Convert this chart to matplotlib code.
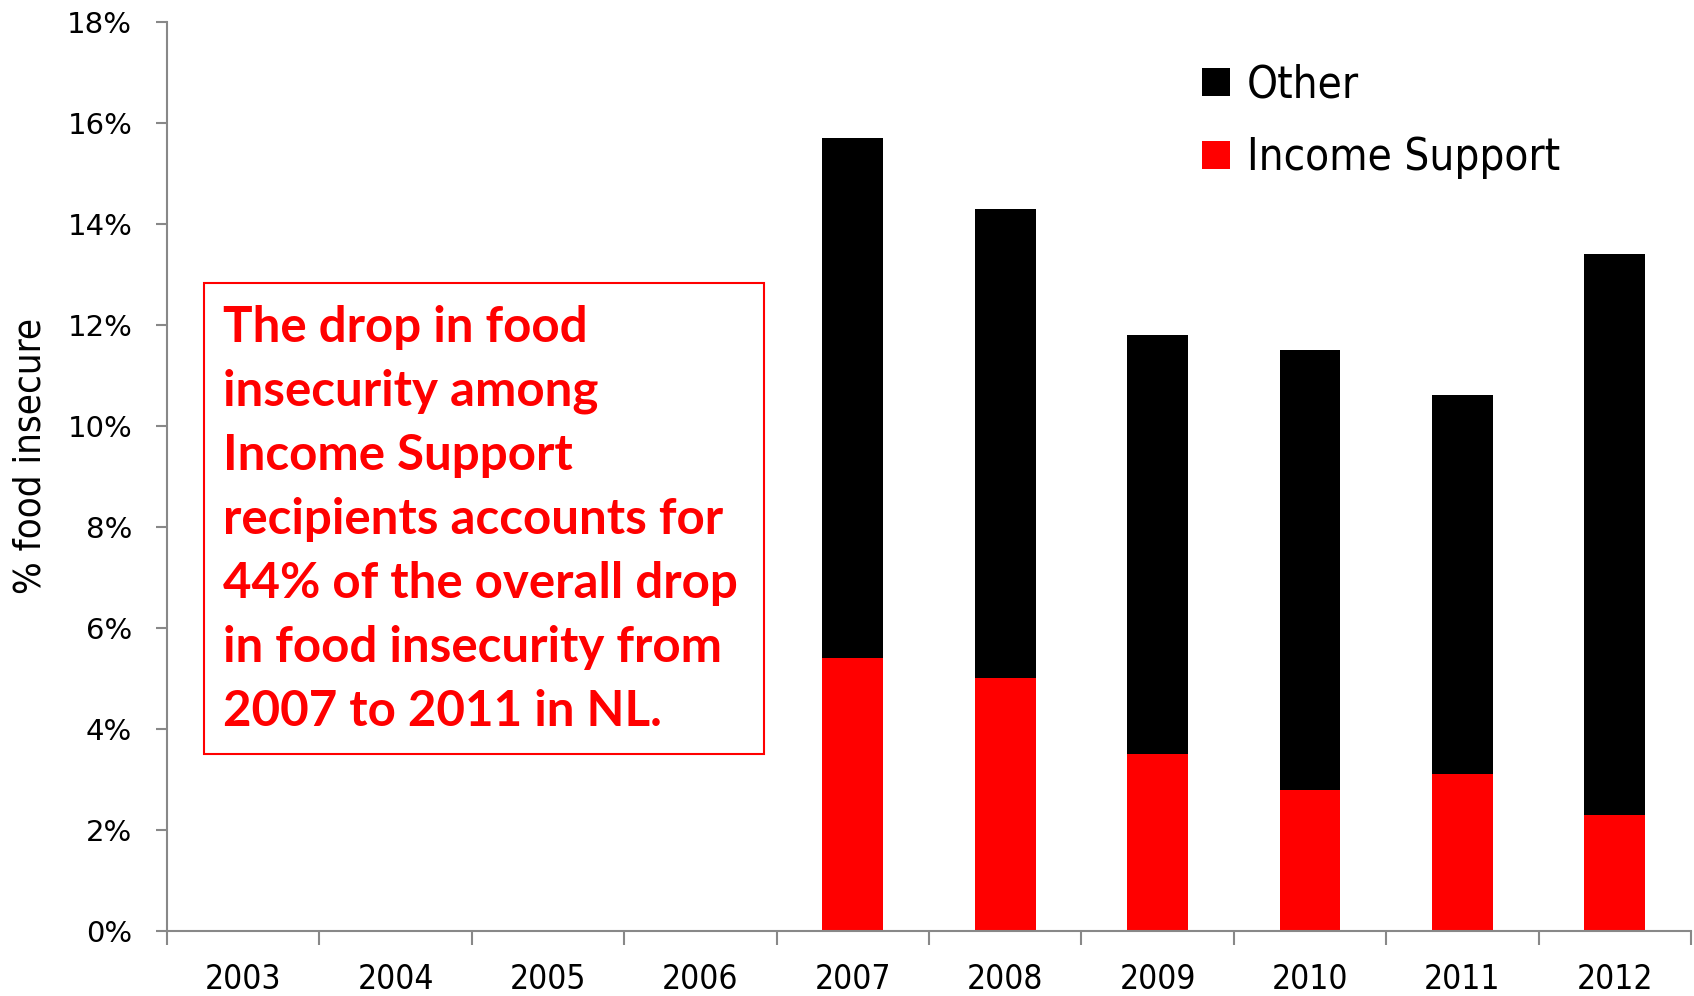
import matplotlib
matplotlib.use('Agg')
import matplotlib.pyplot as plt
from matplotlib.patches import Rectangle, Patch
from matplotlib.ticker import FixedLocator

years = ['2003', '2004', '2005', '2006', '2007', '2008', '2009', '2010', '2011', '2012']
# доли в процентах; пустые годы без данных
income_support = [0, 0, 0, 0, 5.4, 5.0, 3.5, 2.8, 3.1, 2.3]
other = [0, 0, 0, 0, 10.3, 9.3, 8.3, 8.7, 7.5, 11.1]
y_ticks = [0, 2, 4, 6, 8, 10, 12, 14, 16, 18]

note = ('The drop in food\ninsecurity among\nIncome Support\nrecipients accounts for\n'
        '44% of the overall drop\nin food insecurity from\n2007 to 2011 in NL.')

W, H = 1694, 996
grey = '#888888'
narrow = {'family': 'DejaVu Sans', 'stretch': 'condensed'}

fig = plt.figure(figsize=(W / 100, H / 100), dpi=100)
ax = fig.add_axes([167 / W, 1 - 931 / H, (1691 - 167) / W, (931 - 21.6) / H])

x = list(range(len(years)))
ax.bar(x, income_support, width=0.4, color='#ff0000', label='Income Support')
ax.bar(x, other, width=0.4, bottom=income_support, color='black', label='Other')

ax.set_xlim(-0.5, len(years) - 0.5)
ax.set_ylim(0, 18)

# оси
for s in ['top', 'right']:
    ax.spines[s].set_visible(False)
for s in ['left', 'bottom']:
    ax.spines[s].set_color(grey)
    ax.spines[s].set_linewidth(1.5)

ax.set_yticks(y_ticks)
ax.set_yticklabels(['%d%%' % v for v in y_ticks], fontsize=21, family='DejaVu Sans')
ax.tick_params(axis='y', length=8, width=1.5, color=grey, pad=17)

ax.set_xticks(x)
ax.set_xticklabels(years, fontsize=24, **narrow)
ax.tick_params(axis='x', which='major', length=0, pad=23)
ax.xaxis.set_minor_locator(FixedLocator([i - 0.5 for i in range(len(years) + 1)]))
ax.tick_params(axis='x', which='minor', length=10, width=1.5, color=grey)

ax.set_ylabel('% food insecure', fontsize=27.5, **narrow)
ax.yaxis.set_label_coords(-0.0777, 0.522)

# легенда
h_other = Patch(facecolor='black')
h_inc = Patch(facecolor='#ff0000')
ax.legend([h_other, h_inc], ['Other', 'Income Support'], loc='upper left',
          bbox_to_anchor=(1163 / W, 1 - 24 / H), bbox_transform=fig.transFigure,
          frameon=False, prop={'family': 'DejaVu Sans', 'stretch': 'condensed', 'size': 31.5},
          handlelength=0.62, handleheight=0.62, handletextpad=0.4, labelspacing=0.68)

# рамка с пояснением
fig.patches.append(Rectangle((204 / W, 1 - 754 / H), (764 - 204) / W, (754 - 283) / H,
                             transform=fig.transFigure, fill=False,
                             edgecolor='#ff0000', linewidth=1.5))
fig.text(223 / W, 1 - 305 / H, note, color='#ff0000', fontsize=35.5, fontweight='bold',
         family=['Lato', 'DejaVu Sans'], va='top', ha='left', linespacing=1.51)

fig.savefig('out.png', dpi=100)
